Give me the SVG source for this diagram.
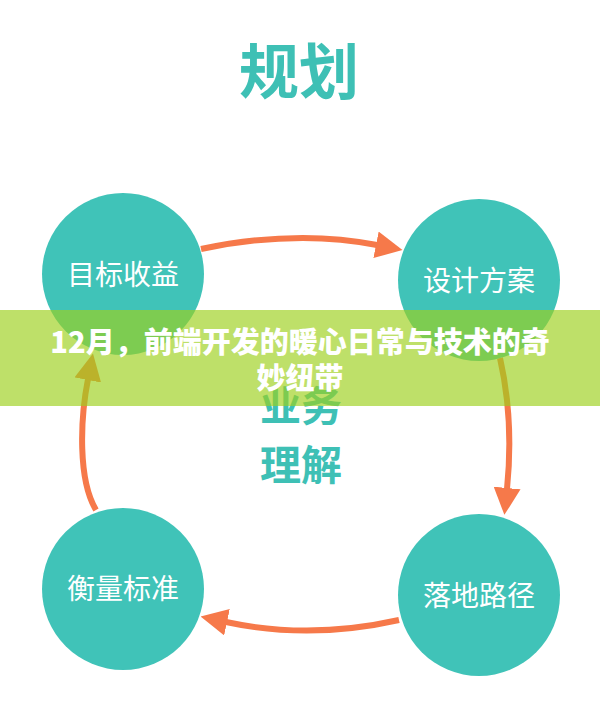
<svg xmlns="http://www.w3.org/2000/svg" width="600" height="716" viewBox="0 0 600 716">
<style>
.bg{fill:#ffffff}
.node circle{fill:#40c3b8}
.node text{fill:#ffffff;font-family:"Noto Sans CJK SC","Noto Sans",sans-serif;font-size:28px;text-anchor:middle}
.title{fill:#3ec0b5;font-family:"Noto Sans CJK SC","Noto Sans",sans-serif;font-weight:bold;text-anchor:middle}
.conn path{fill:none;stroke:#f6794a;stroke-width:6}
.banner{fill:#9dd01c;fill-opacity:0.66}
.btext{fill:#ffffff;font-family:"Noto Sans CJK SC","Noto Sans",sans-serif;font-weight:900;font-size:29px;text-anchor:middle}
</style>
<defs>
<marker id="ah" markerUnits="userSpaceOnUse" markerWidth="27" markerHeight="27" viewBox="0 0 27 27" refX="1" refY="13.5" orient="auto">
<path d="M0,0 L27,13.5 L0,27 z" fill="#f6794a"/>
</marker>
</defs>
<rect class="bg" x="0" y="0" width="600" height="716"/>
<text class="title" x="299" y="94" font-size="60">规划</text>
<g id="center-label">
<text class="title" x="301" y="421" font-size="41">业务</text>
<text class="title" x="301" y="480" font-size="41">理解</text>
</g>
<g class="conn" id="connectors">
<path d="M201 249 Q297 229 377 245" marker-end="url(#ah)"/>
<path d="M500 358 Q514 420 507 489" marker-end="url(#ah)"/>
<path d="M399 620 Q310 640 226 622" marker-end="url(#ah)"/>
<path d="M96 510 C78 480 80 420 88 379" marker-end="url(#ah)"/>
</g>
<g class="node" id="n1"><circle cx="123" cy="274" r="81"/><text x="123" y="285">目标收益</text></g>
<g class="node" id="n2"><circle cx="479" cy="280" r="81"/><text x="479" y="291">设计方案</text></g>
<g class="node" id="n3"><circle cx="479" cy="595" r="81"/><text x="479" y="606">落地路径</text></g>
<g class="node" id="n4"><circle cx="123" cy="589" r="81"/><text x="123" y="599">衡量标准</text></g>
<rect class="banner" x="0" y="310" width="600" height="96"/>
<text class="btext" x="300" y="353">12月，前端开发的暖心日常与技术的奇</text>
<text class="btext" x="300" y="389">妙纽带</text>
</svg>
